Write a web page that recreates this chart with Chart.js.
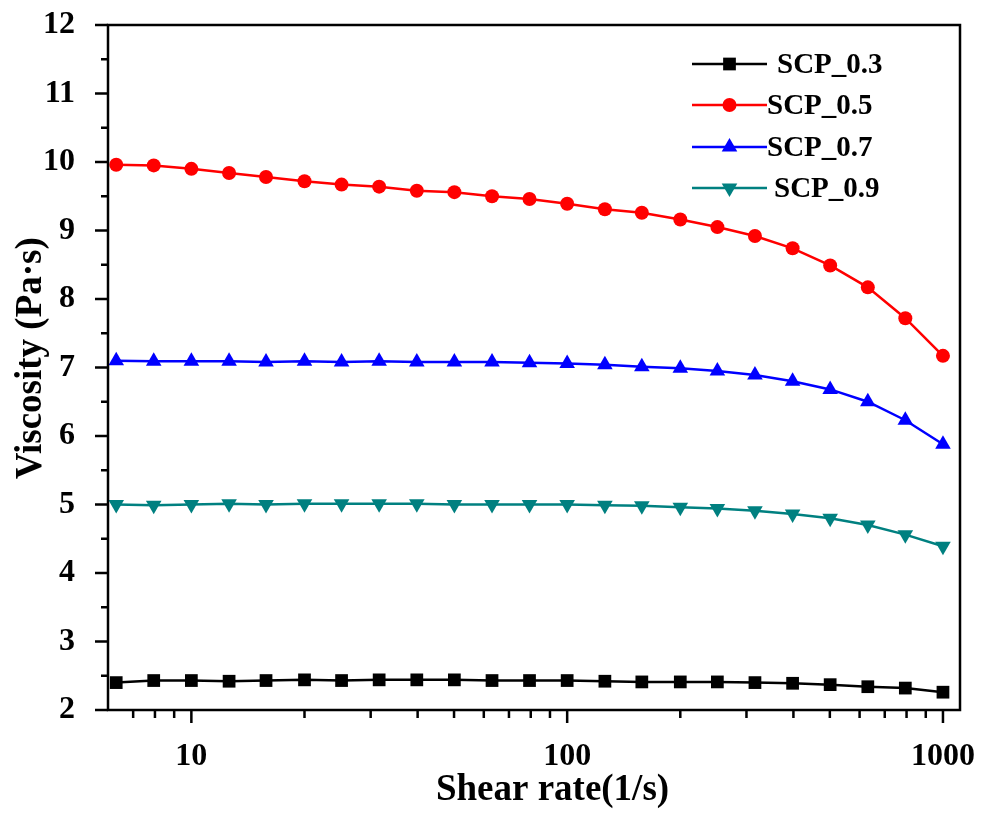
<!DOCTYPE html>
<html>
<head>
<meta charset="utf-8">
<script src="https://cdn.jsdelivr.net/npm/chart.js@4/dist/chart.umd.min.js"></script>
<style>
  html, body { margin: 0; padding: 0; background: #ffffff; }
  #wrap { width: 981px; height: 813px; }
</style>
</head>
<body>
<div id="wrap"><canvas id="c" width="981" height="813"></canvas></div>
<script>
// ---- data ----
const shearRate = [6.31, 7.94, 10, 12.6, 15.8, 20, 25.1, 31.6, 39.8, 50.1, 63.1, 79.4,
                   100, 126, 158, 200, 251, 316, 398, 501, 631, 794, 1000];
const scp03 = [2.40, 2.43, 2.43, 2.42, 2.43, 2.44, 2.43, 2.44, 2.44, 2.44, 2.43, 2.43,
               2.43, 2.42, 2.41, 2.41, 2.41, 2.40, 2.39, 2.37, 2.34, 2.32, 2.26];
const scp05 = [9.96, 9.95, 9.90, 9.84, 9.78, 9.72, 9.67, 9.64, 9.58, 9.56, 9.50, 9.46,
               9.39, 9.31, 9.26, 9.16, 9.05, 8.92, 8.74, 8.49, 8.17, 7.72, 7.17];
const scp07 = [7.10, 7.09, 7.09, 7.09, 7.08, 7.09, 7.08, 7.09, 7.08, 7.08, 7.08, 7.07,
               7.06, 7.04, 7.01, 6.99, 6.95, 6.89, 6.80, 6.68, 6.50, 6.23, 5.88];
const scp09 = [5.00, 4.99, 5.00, 5.01, 5.00, 5.01, 5.01, 5.01, 5.01, 5.00, 5.00, 5.00,
               5.00, 4.99, 4.98, 4.96, 4.94, 4.91, 4.86, 4.80, 4.70, 4.56, 4.39];
const seriesNames = ['SCP_0.3', 'SCP_0.5', 'SCP_0.7', 'SCP_0.9'];
const xMajorTicks = [10, 100, 1000];
const xMinorTicks = [7, 8, 9, 20, 30, 40, 50, 60, 70, 80, 90, 200, 300, 400, 500, 600, 700, 800, 900];
const yMajorTicks = [2, 3, 4, 5, 6, 7, 8, 9, 10, 11, 12];
const yMinorTicks = [2.5, 3.5, 4.5, 5.5, 6.5, 7.5, 8.5, 9.5, 10.5, 11.5];
const xTitle = 'Shear rate(1/s)';
const yTitle = 'Viscosity (Pa·s)';

const FONT = "'Liberation Serif', 'Times New Roman', serif";

function pts(vals) { return shearRate.map((x, i) => ({ x: x, y: vals[i] })); }

const styles = [
  { color: '#000000', pointStyle: 'rect', radius: 9, rotation: 0 },
  { color: '#ff0000', pointStyle: 'circle', radius: 7, rotation: 0 },
  { color: '#0000ff', pointStyle: 'triangle', radius: 9, rotation: 0 },
  { color: '#008080', pointStyle: 'triangle', radius: 9, rotation: 180 }
];
const allSeries = [scp03, scp05, scp07, scp09];

const datasets = allSeries.map((vals, k) => ({
  label: seriesNames[k],
  data: pts(vals),
  borderColor: styles[k].color,
  backgroundColor: styles[k].color,
  pointBackgroundColor: styles[k].color,
  pointBorderColor: styles[k].color,
  pointBorderWidth: 0,
  pointStyle: styles[k].pointStyle,
  pointRadius: styles[k].radius,
  pointRotation: styles[k].rotation,
  borderWidth: 2.5,
  tension: 0,
  fill: false
}));

function drawMarker(ctx, st, x, y) {
  ctx.save();
  ctx.fillStyle = st.color;
  ctx.beginPath();
  const r = st.radius;
  if (st.pointStyle === 'circle') {
    ctx.arc(x, y, r, 0, Math.PI * 2);
  } else if (st.pointStyle === 'rect') {
    const s = Math.SQRT1_2 * r;
    ctx.rect(x - s, y - s, 2 * s, 2 * s);
  } else {
    let rad = st.rotation * Math.PI / 180;
    const t = 2 * Math.PI / 3;
    ctx.moveTo(x + Math.sin(rad) * r, y - Math.cos(rad) * r);
    rad += t;
    ctx.lineTo(x + Math.sin(rad) * r, y - Math.cos(rad) * r);
    rad += t;
    ctx.lineTo(x + Math.sin(rad) * r, y - Math.cos(rad) * r);
    ctx.closePath();
  }
  ctx.fill();
  ctx.restore();
}

function zeroPad(scale) {
  scale.paddingTop = 0; scale.paddingBottom = 0;
  scale.paddingLeft = 0; scale.paddingRight = 0;
}

const framePlugin = {
  id: 'frame',
  beforeDraw(chart) {
    const c = chart.ctx;
    c.save();
    c.fillStyle = '#ffffff';
    c.fillRect(0, 0, chart.width, chart.height);
    c.restore();
  },
  afterDraw(chart) {
    const c = chart.ctx;
    const a = chart.chartArea;
    const xs = chart.scales.x, ys = chart.scales.y;
    c.save();
    c.strokeStyle = '#000000';
    c.lineWidth = 2.5;
    c.strokeRect(a.left, a.top, a.right - a.left, a.bottom - a.top);
    c.beginPath();
    xMajorTicks.forEach(v => { const p = xs.getPixelForValue(v); c.moveTo(p, a.bottom); c.lineTo(p, a.bottom + 13); });
    xMinorTicks.forEach(v => { const p = xs.getPixelForValue(v); c.moveTo(p, a.bottom); c.lineTo(p, a.bottom + 8); });
    yMajorTicks.forEach(v => { const p = ys.getPixelForValue(v); c.moveTo(a.left, p); c.lineTo(a.left - 13, p); });
    yMinorTicks.forEach(v => { const p = ys.getPixelForValue(v); c.moveTo(a.left, p); c.lineTo(a.left - 7, p); });
    c.stroke();

    // legend
    const rowsY = [64, 105, 147, 188];
    const textX = [777, 767, 767, 774];
    c.font = "bold 29px " + FONT;
    c.textBaseline = 'middle';
    c.textAlign = 'left';
    chart.data.datasets.forEach((ds, k) => {
      const y = rowsY[k];
      c.strokeStyle = ds.borderColor;
      c.lineWidth = 2.5;
      c.beginPath();
      c.moveTo(692, y);
      c.lineTo(767, y);
      c.stroke();
      drawMarker(c, styles[k], 729.5, y);
      c.fillStyle = '#000000';
      c.fillText(ds.label, textX[k], y + 2);
    });
    c.restore();
  }
};

new Chart(document.getElementById('c'), {
  type: 'line',
  data: { datasets: datasets },
  options: {
    responsive: false,
    animation: false,
    devicePixelRatio: 1,
    layout: { padding: { top: 25, right: 21, left: 0, bottom: 0 } },
    plugins: { legend: { display: false }, tooltip: { enabled: false } },
    scales: {
      x: {
        type: 'logarithmic',
        min: 6,
        max: 1110,
        grid: { display: false },
        border: { display: false },
        afterBuildTicks(scale) { scale.ticks = xMajorTicks.map(v => ({ value: v, major: true })); },
        afterFit(scale) { scale.height = 103; zeroPad(scale); },
        ticks: {
          color: '#000000',
          font: { family: FONT, size: 32, weight: 'bold' },
          padding: 20,
          maxRotation: 0,
          autoSkip: false,
          callback: (v) => String(v)
        },
        title: {
          display: true,
          text: '    ' + xTitle,
          color: '#000000',
          font: { family: FONT, size: 37, weight: 'bold' },
          padding: { top: 0, bottom: 0 }
        }
      },
      y: {
        type: 'linear',
        min: 2,
        max: 12,
        grid: { display: false },
        border: { display: false },
        afterBuildTicks(scale) { scale.ticks = yMajorTicks.map(v => ({ value: v })); },
        afterFit(scale) { scale.width = 108; zeroPad(scale); },
        ticks: {
          color: '#000000',
          font: { family: FONT, size: 32, weight: 'bold' },
          padding: 25,
          autoSkip: false
        },
        title: {
          display: true,
          text: '  ' + yTitle,
          color: '#000000',
          font: { family: FONT, size: 37, weight: 'bold' },
          padding: { top: 9, bottom: 0 }
        }
      }
    }
  },
  plugins: [framePlugin]
});
</script>
</body>
</html>
